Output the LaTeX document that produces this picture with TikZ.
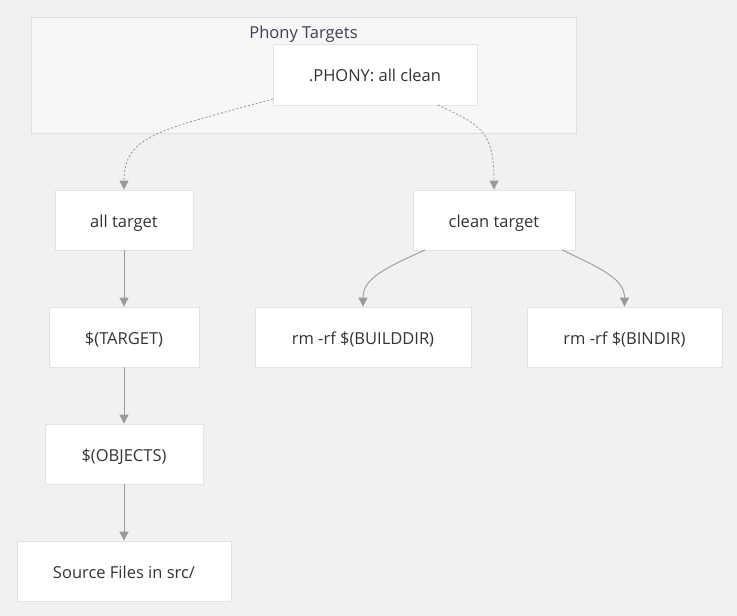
\documentclass[tikz,border=0pt]{standalone}
\usepackage{fontspec}
\setmainfont{Open Sans}
\usetikzlibrary{arrows.meta}
\definecolor{bgc}{HTML}{F2F1F0}
\definecolor{clf}{HTML}{F7F7F7}
\definecolor{clb}{HTML}{E0E0E0}
\definecolor{nb}{HTML}{E3E3E3}
\definecolor{ln}{HTML}{9A9A9A}
\definecolor{tx}{HTML}{333333}
\definecolor{ttl}{HTML}{3F3F55}
\begin{document}
\begin{tikzpicture}[x=1pt,y=-1pt,
  box/.style={draw=nb,fill=white,line width=0.8pt,text=tx,font=\fontsize{16.5}{19}\selectfont,inner sep=0pt,text height=14pt,text depth=0pt},
  edge/.style={draw=ln,line width=0.9pt,-{Triangle[length=9pt,width=9pt]}},
  dot/.style={edge,dash pattern=on 2pt off 2pt}]
\fill[bgc] (0,0) rectangle (737,616);
\useasboundingbox (0,0) rectangle (737,616);
\draw[draw=clb,fill=clf,line width=0.8pt] (31,17) rectangle (576,133);
\node[text=ttl,font=\fontsize{16.5}{19}\selectfont,inner sep=0pt,text height=14pt,text depth=0pt] (title) at (303.5,31) {Phony Targets};
\node[box,minimum width=204pt,minimum height=61pt] (phony) at (375,74.5) {.PHONY: all clean};
\node[box,minimum width=138pt,minimum height=60pt] (all) at (124,220) {all target};
\node[box,minimum width=162pt,minimum height=60pt] (clean) at (494,220) {clean target};
\node[box,minimum width=150pt,minimum height=60pt] (target) at (124,337) {\$(TARGET)};
\node[box,minimum width=216pt,minimum height=60pt] (build) at (363,337) {rm -rf \$(BUILDDIR)};
\node[box,minimum width=195pt,minimum height=60pt] (bin) at (624.5,337) {rm -rf \$(BINDIR)};
\node[box,minimum width=158pt,minimum height=60pt] (obj) at (124,454) {\$(OBJECTS)};
\node[box,minimum width=214pt,minimum height=60pt] (src) at (124,571) {Source Files in src/};
\coordinate (p1) at (273,99);
\coordinate (p2) at (438,105);
\coordinate (c1) at (425,250);
\coordinate (c2) at (562,250);
\draw[dot] (p1) .. controls (160,130) and (124,135) .. (all.north);
\draw[dot] (p2) .. controls (480,125) and (494,130) .. (clean.north);
\draw[edge] (all) -- (target);
\draw[edge] (target) -- (obj);
\draw[edge] (obj) -- (src);
\draw[edge] (c1) .. controls (380,270) and (363,280) .. (build.north);
\draw[edge] (c2) .. controls (605,270) and (624.5,280) .. (bin.north);
\end{tikzpicture}
\end{document}
